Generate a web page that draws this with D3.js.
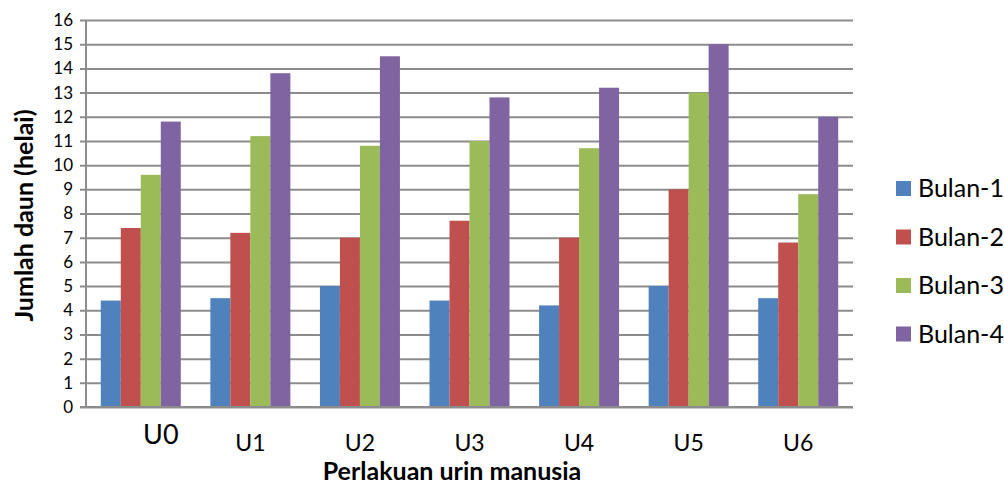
<!DOCTYPE html>
<html>
<head>
<meta charset="utf-8">
<script src="https://cdn.jsdelivr.net/npm/d3@7"></script>
<style>
  body { margin: 0; background: #fff; }
  svg { display: block; font-family: Lato, "Open Sans", sans-serif; }
</style>
</head>
<body>
<div id="chart"></div>
<script>
var categories = ["U0", "U1", "U2", "U3", "U4", "U5", "U6"];
var series = ["Bulan-1", "Bulan-2", "Bulan-3", "Bulan-4"];
var bulan1 = [4.4, 4.5, 5.0, 4.4, 4.2, 5.0, 4.5];
var bulan2 = [7.4, 7.2, 7.0, 7.7, 7.0, 9.0, 6.8];
var bulan3 = [9.6, 11.2, 10.8, 11.0, 10.7, 13.0, 8.8];
var bulan4 = [11.8, 13.8, 14.5, 12.8, 13.2, 15.0, 12.0];
var y_ticks = d3.range(0, 17);
var colors = ["#4f81bd", "#c0504d", "#9bbb59", "#8064a2"];

var width = 1004, height = 484;
var margins = { top: 20, right: 151, bottom: 77, left: 86 };

var values = [bulan1, bulan2, bulan3, bulan4];
var data = categories.map(function (c, i) {
  return { cat: c, vals: series.map((s, j) => ({ key: s, value: values[j][i] })) };
});

var svg = d3.select("#chart").append("svg")
  .attr("width", width).attr("height", height);

var x0 = d3.scaleBand()
  .domain(categories)
  .range([margins.left, width - margins.right])
  .padding(0);

var bw = x0.bandwidth(), group_w = bw * 0.73;
var x1 = d3.scaleBand()
  .domain(series)
  .range([(bw - group_w) / 2, (bw + group_w) / 2]);

var y = d3.scaleLinear()
  .domain([0, 16])
  .range([height - margins.bottom, margins.top]);

var color = d3.scaleOrdinal().domain(series).range(colors);

// gridlines + y axis
var y_axis = d3.axisLeft(y)
  .tickValues(y_ticks)
  .tickSize(-(width - margins.right - margins.left))
  .tickPadding(13)
  .tickFormat(d3.format("d"));

var gy = svg.append("g")
  .attr("transform", "translate(" + margins.left + ",0)")
  .call(y_axis);
gy.select(".domain").remove();
gy.selectAll(".tick line")
  .attr("x1", -6)
  .attr("stroke", "#8c8c8c")
  .attr("stroke-width", 2);
gy.selectAll(".tick text")
  .attr("font-size", "17px")
  .attr("font-family", "Lato, sans-serif")
  .attr("fill", "#000");

svg.append("line")
  .attr("x1", margins.left).attr("x2", margins.left)
  .attr("y1", y(16)).attr("y2", y(0))
  .attr("stroke", "#8c8c8c").attr("stroke-width", 2);

// bars
var groups = svg.append("g").selectAll("g")
  .data(data)
  .enter().append("g")
  .attr("transform", (d) => "translate(" + x0(d.cat) + ",0)");

groups.selectAll("rect")
  .data((d) => d.vals)
  .enter().append("rect")
  .attr("x", (d) => x1(d.key))
  .attr("y", (d) => y(d.value))
  .attr("width", x1.bandwidth())
  .attr("height", (d) => y(0) - y(d.value))
  .attr("fill", (d) => color(d.key));

// x axis
var x_axis = d3.axisBottom(x0).tickSize(0).tickPadding(28);
var gx = svg.append("g")
  .attr("transform", "translate(0," + y(0) + ")")
  .call(x_axis);
gx.select(".domain").remove();
gx.selectAll(".tick text")
  .attr("font-size", "23px")
  .attr("font-family", "Lato, sans-serif")
  .attr("fill", "#000");
gx.selectAll(".tick text")
  .filter((d) => d === "U0")
  .attr("font-size", "27px")
  .attr("dx", 20)
  .attr("dy", "0.35em");

svg.append("line")
  .attr("x1", margins.left - 6).attr("x2", width - margins.right)
  .attr("y1", y(0)).attr("y2", y(0))
  .attr("stroke", "#8c8c8c").attr("stroke-width", 2);

// axis titles
svg.append("text")
  .attr("transform", "translate(33," + (margins.top + (height - margins.bottom - margins.top) / 2 + 2) + ") rotate(-90)")
  .attr("text-anchor", "middle")
  .attr("font-size", "25px")
  .attr("font-weight", "bold")
  .text("Jumlah daun (helai)");

svg.append("text")
  .attr("x", 452)
  .attr("y", 480)
  .attr("text-anchor", "middle")
  .attr("font-size", "25px")
  .attr("font-weight", "bold")
  .text("Perlakuan urin manusia");

// legend
var legend = svg.append("g").selectAll("g")
  .data(series)
  .enter().append("g")
  .attr("transform", (d, i) => "translate(896," + (181 + i * 48.5) + ")");

legend.append("rect")
  .attr("width", 15).attr("height", 15)
  .attr("fill", (d) => color(d));

legend.append("text")
  .attr("x", 22)
  .attr("y", 16)
  .attr("font-size", "25px")
  .text((d) => d);
</script>
</body>
</html>
